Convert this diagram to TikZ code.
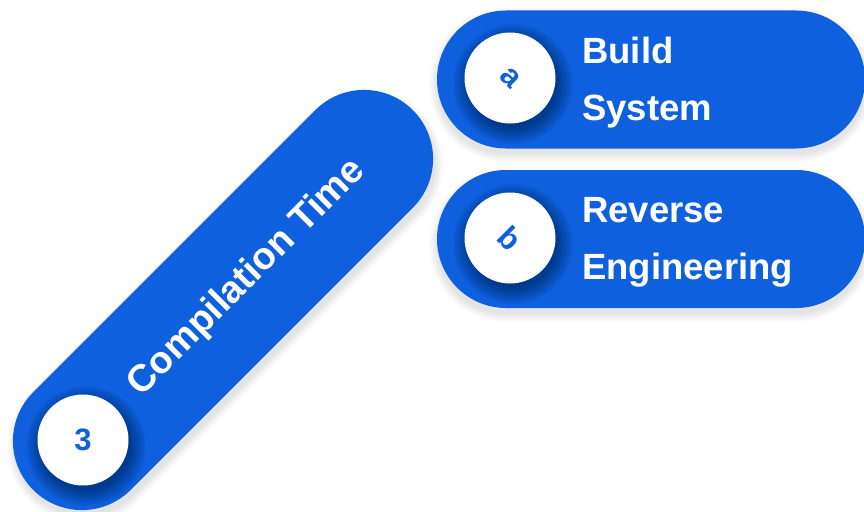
\documentclass[tikz,border=0pt]{standalone}
\usepackage{fontspec}
\setmainfont{Liberation Sans}
\usetikzlibrary{shapes.misc}
\definecolor{mainblue}{RGB}{14,96,222}
\tikzset{
  pill/.style={rounded rectangle, fill=mainblue, minimum height=138pt, inner sep=0pt},
  pillshadow/.style={rounded rectangle, fill=black, opacity=0.012, inner sep=0pt},
  badge/.style={circle, fill=white, minimum size=91pt, inner sep=0pt, text=mainblue,
    font=\bfseries\fontsize{31}{31}\selectfont},
  itemtext/.style={text=white, align=left, inner sep=0pt,
    font=\bfseries\fontsize{36.5}{57}\selectfont},
}
\begin{document}
\begin{tikzpicture}[x=1pt,y=-1pt]
\useasboundingbox (0,0) rectangle (864,511);
% soft shadows of the pills
\foreach \k in {0,...,8}{
  \node[pillshadow, minimum height={138+2*\k}, minimum width={537+2*\k}, rotate=45] at (225,306) {};
  \node[pillshadow, minimum height={138+2*\k}, minimum width={428+2*\k}] at (651,85) {};
  \node[pillshadow, minimum height={138+2*\k}, minimum width={428+2*\k}] at (651,245) {};
}
% pills
\node[pill, minimum width=537pt, rotate=45] (p3) at (223,300) {};
\node[pill, minimum width=428pt] (pa) at (651,79.5) {};
\node[pill, minimum width=428pt] (pb) at (651,239) {};
% circle shadows
\foreach \r in {44,...,60}{
  \fill[black, opacity=0.025] (86,446) circle (\r pt);
  \fill[black, opacity=0.025] (513,84) circle (\r pt);
  \fill[black, opacity=0.025] (513,244) circle (\r pt);
}
% badges
\node[badge] (c3) at (83,440) {3};
\node[badge, rotate=-45] (ca) at (510,78) {a};
\node[badge, rotate=-45] (cb) at (510,238) {b};
% texts
\node[itemtext, rotate=45, font=\bfseries\fontsize{38}{38}\selectfont] (t3) at (247,278) {Compilation Time};
\node[itemtext, anchor=base west] (ta) at (582,120) {Build\\System};
\node[itemtext, anchor=base west] (tb) at (582,279) {Reverse\\Engineering};
\end{tikzpicture}
\end{document}
